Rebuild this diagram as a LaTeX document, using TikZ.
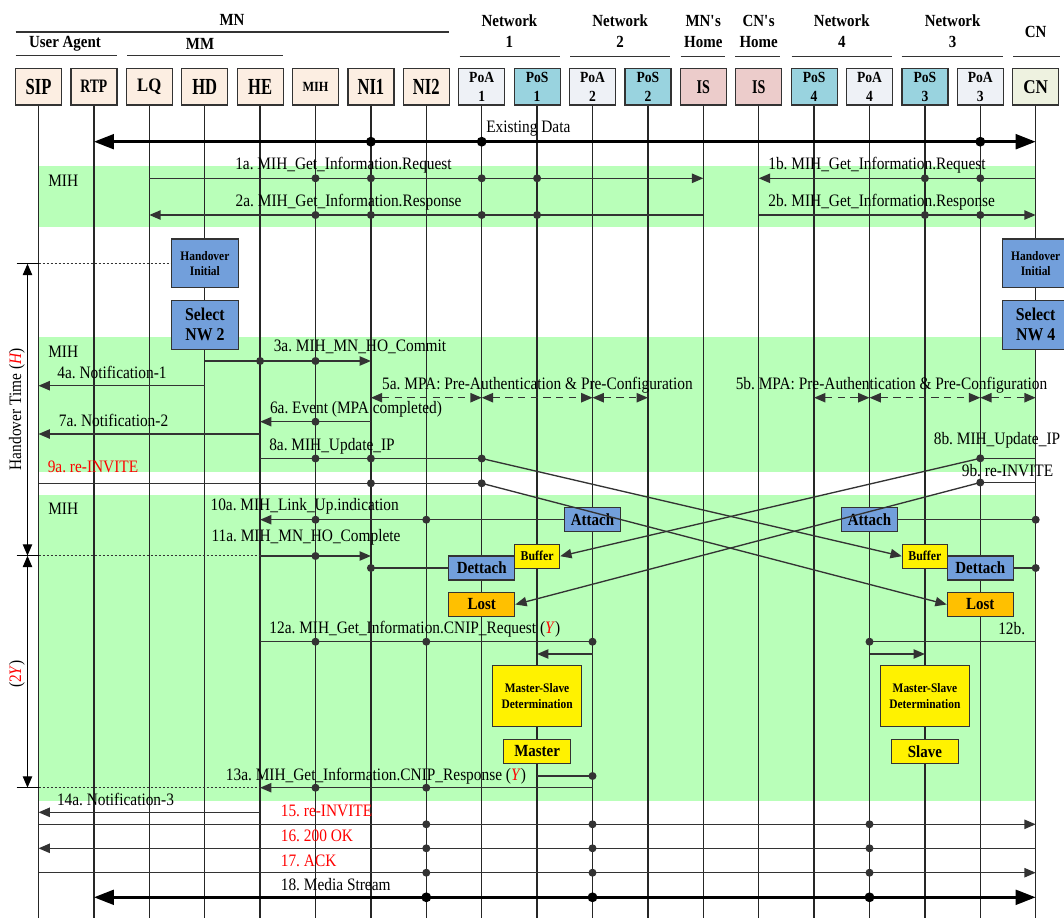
\documentclass[tikz,border=0pt]{standalone}
\usepackage{fontspec}
\setmainfont[FakeStretch=0.88]{Liberation Serif}
\newfontfamily\nar[FakeStretch=0.72]{Liberation Serif}
\usetikzlibrary{arrows.meta}
\definecolor{band}{RGB}{185,255,185}
\definecolor{hoblue}{RGB}{114,159,219}
\definecolor{peach}{RGB}{252,238,226}
\definecolor{poagray}{RGB}{238,241,246}
\definecolor{poscyan}{RGB}{153,211,223}
\definecolor{ispink}{RGB}{236,204,203}
\definecolor{cnbeige}{RGB}{238,242,224}
\definecolor{lostor}{RGB}{255,192,0}
\definecolor{ink}{RGB}{51,51,51}
\newcommand\fsz[2]{\fontsize{#1pt}{#2pt}\selectfont}
\newcommand\dt[2]{\fill[ink] (#1 |- 0,#2) circle (3pt);}
\newcommand\bdt[2]{\fill[black] (#1 |- 0,#2) circle (3.7pt);}
\frenchspacing
\begin{document}
\begin{tikzpicture}[x=0.75pt,y=-0.75pt,
  hb/.style={draw=ink, line width=0.9pt, minimum width=34.5pt, minimum height=27.5pt, inner sep=0pt, align=center},
  grp/.style={font=\bfseries\fsz{12.75}{15.75}, align=center, inner sep=0pt},
  gline/.style={draw=ink, line width=1.4pt},
  life/.style={draw=black!85, line width=1pt},
  msg/.style={draw=ink, line width=1pt, -{Triangle[length=8.5pt,width=7pt]}},
  seg/.style={draw=ink, line width=1pt},
  mpa/.style={draw=ink, line width=1pt, dash pattern=on 5.5pt off 4pt, {Triangle[length=8.5pt,width=7pt]}-{Triangle[length=8.5pt,width=7pt]}},
  flow/.style={draw=black, line width=2.2pt, {Triangle[length=15pt,width=11pt]}-{Triangle[length=15pt,width=11pt]}},
  tmark/.style={draw=black, line width=0.9pt, {Triangle[length=8.5pt,width=7pt]}-{Triangle[length=8.5pt,width=7pt]}},
  tick/.style={draw=black, line width=0.9pt},
  dotl/.style={draw=ink, line width=0.8pt, dash pattern=on 1.5pt off 1.5pt},
  lbl/.style={font=\fsz{13.1}{15}, inner sep=0pt},
  rlbl/.style={lbl, text=red},
  bx/.style={draw=ink, line width=0.9pt, inner sep=0pt, align=center, font=\bfseries},
  hobox/.style={bx, fill=hoblue, minimum width=50.1pt, minimum height=36.6pt},
  attbox/.style={bx, fill=hoblue, minimum width=42pt, minimum height=18pt, font=\bfseries\fsz{12.75}{14}},
  detbox/.style={bx, fill=hoblue, minimum width=49.5pt, minimum height=18pt, font=\bfseries\fsz{12.75}{14}},
  lostbox/.style={bx, fill=lostor, minimum width=49.5pt, minimum height=18pt, font=\bfseries\fsz{12.75}{14}},
  bufbox/.style={bx, fill=yellow, minimum width=33.75pt, minimum height=18pt, font=\bfseries\fsz{10.1}{12}},
  msbox/.style={bx, fill=yellow, minimum width=66.5pt, minimum height=45.75pt, font=\bfseries\fsz{9.75}{12}},
  rolebox/.style={bx, fill=yellow, minimum width=50pt, minimum height=18pt, font=\bfseries\fsz{12.75}{14}}
]
\useasboundingbox (0,0) rectangle (1064,918);

% ---------- entity boxes ----------
\node[hb, fill=peach, font=\nar\bfseries\fsz{17.25}{18}] (sip) at (38.5,86.7) {SIP};
\node[hb, fill=peach, font=\nar\bfseries\fsz{14.25}{16}] (rtp) at (93.9,86.7) {RTP};
\node[hb, fill=peach, font=\bfseries\fsz{14.25}{16}] (lq) at (149.3,86.7) {LQ};
\node[hb, fill=peach, font=\nar\bfseries\fsz{17.25}{18}] (hd) at (204.7,86.7) {HD};
\node[hb, fill=peach, font=\nar\bfseries\fsz{17.25}{18}] (he) at (260.1,86.7) {HE};
\node[hb, fill=peach, font=\bfseries\fsz{10.5}{12}] (mih) at (315.5,86.7) {MIH};
\node[hb, fill=peach, font=\nar\bfseries\fsz{17.25}{18}] (nia) at (370.9,86.7) {NI1};
\node[hb, fill=peach, font=\nar\bfseries\fsz{17.25}{18}] (nib) at (426.3,86.7) {NI2};
\node[hb, fill=poagray, font=\bfseries\fsz{11.6}{14.25}] (poaA) at (481.7,86.7) {PoA\\1};
\node[hb, fill=poscyan, font=\bfseries\fsz{11.6}{14.25}] (posA) at (537.1,86.7) {PoS\\1};
\node[hb, fill=poagray, font=\bfseries\fsz{11.6}{14.25}] (poaB) at (592.5,86.7) {PoA\\2};
\node[hb, fill=poscyan, font=\bfseries\fsz{11.6}{14.25}] (posB) at (647.9,86.7) {PoS\\2};
\node[hb, fill=ispink, font=\nar\bfseries\fsz{14.6}{16}] (isM) at (703.3,86.7) {IS};
\node[hb, fill=ispink, font=\nar\bfseries\fsz{14.6}{16}] (isC) at (758.7,86.7) {IS};
\node[hb, fill=poscyan, font=\bfseries\fsz{11.6}{14.25}] (posD) at (814.1,86.7) {PoS\\4};
\node[hb, fill=poagray, font=\bfseries\fsz{11.6}{14.25}] (poaD) at (869.5,86.7) {PoA\\4};
\node[hb, fill=poscyan, font=\bfseries\fsz{11.6}{14.25}] (posC) at (924.9,86.7) {PoS\\3};
\node[hb, fill=poagray, font=\bfseries\fsz{11.6}{14.25}] (poaC) at (980.3,86.7) {PoA\\3};
\node[hb, fill=cnbeige, font=\bfseries\fsz{14.6}{16}] (cn) at (1035.7,86.7) {CN};

% ---------- group headings ----------
\node[grp] (gMN) at (232,20) {MN};
\node[grp] (gUA) at (65,44) {User Agent};
\node[grp] (gMM) at (200,44) {MM};
\node[grp] (gN1) at (509.4,31.5) {Network\\1};
\node[grp] (gN2) at (620.2,31.5) {Network\\2};
\node[grp] (gMH) at (703.3,31.5) {MN\textquotesingle s\\Home};
\node[grp] (gCH) at (758.7,31.5) {CN\textquotesingle s\\Home};
\node[grp] (gN4) at (841.8,31.5) {Network\\4};
\node[grp] (gN3) at (952.6,31.5) {Network\\3};
\node[grp] (gCN) at (1035.7,31.7) {CN};
\draw[gline] (15.5,32.3) -- (449,32.3);
\draw[gline] (15.5,55.5) -- (117,55.5);
\draw[gline] (127,55.5) -- (283,55.5);
\draw[gline] (459.7,56.5) -- (560,56.5);
\draw[gline] (570,56.5) -- (670,56.5);
\draw[gline] (680.6,56.5) -- (725,56.5);
\draw[gline] (735,56.5) -- (780,56.5);
\draw[gline] (791.7,56.5) -- (892,56.5);
\draw[gline] (901.7,56.5) -- (1003,56.5);
\draw[gline] (1013,56.5) -- (1059.6,56.5);

% ---------- MIH bands ----------
\fill[band] (sip |- 0,166) rectangle (cn |- 0,227.3);
\fill[band] (sip |- 0,336.7) rectangle (cn |- 0,471.5);
\fill[band] (sip |- 0,495) rectangle (cn |- 0,800.7);
\node[lbl, anchor=west] (mih1) at (48,180.7) {MIH};
\node[lbl, anchor=west] (mih2) at (48,351.7) {MIH};
\node[lbl, anchor=west] (mih3) at (48,509) {MIH};

% ---------- lifelines ----------
\foreach \n in {sip,rtp,lq,hd,he,mih,nia,nib,poaA,posA,poaB,posB,isM,isC,posD,poaD,posC,poaC,cn}
  \draw[life] (\n.south) -- (\n.south |- 0,918);

% ---------- existing data ----------
\draw[flow] (rtp |- 0,141.7) -- (cn |- 0,141.7);
\bdt{nia}{141.7}\bdt{poaA}{141.7}\bdt{poaC}{141.7}
\node[lbl, anchor=west] (lex) at (486,129) {Existing Data};

% ---------- information query ----------
\draw[msg] (lq |- 0,178.3) -- (isM |- 0,178.3);
\draw[msg] (isM |- 0,215) -- (lq |- 0,215);
\foreach \n in {mih,nia,poaA,posA} {\dt{\n}{178.3}\dt{\n}{215}}
\draw[msg] (cn |- 0,178.3) -- (isC |- 0,178.3);
\draw[msg] (isC |- 0,215) -- (cn |- 0,215);
\foreach \n in {posC,poaC} {\dt{\n}{178.3}\dt{\n}{215}}
\node[lbl] (l1a) at (343.5,165.7) {1a. MIH\_Get\_Information.Request};
\node[lbl] (l2a) at (348.6,202.3) {2a. MIH\_Get\_Information.Response};
\node[lbl] (l1b) at (877,165.7) {1b. MIH\_Get\_Information.Request};
\node[lbl] (l2b) at (881.7,202.3) {2b. MIH\_Get\_Information.Response};

% ---------- handover timing marks ----------
\coordinate (t1) at (27.5,263.7);
\coordinate (t2) at (27.5,555.7);
\coordinate (t3) at (27.5,787.7);
\draw[tick] (16.5,263.7) -- (sip |- t1);
\draw[tick] (16.5,555.7) -- (sip |- t2);
\draw[tick] (16.5,787.7) -- (sip |- t3);
\draw[tmark] (t1) -- (t2);
\draw[tmark] (t2) -- (t3);
\node[lbl, rotate=90] (lht) at (17,409) {Handover Time (\textcolor{red}{\textit{H}})};
\node[lbl, rotate=90] (l2y) at (17,674) {(\textcolor{red}{2\textit{Y}})};

% ---------- commit / MPA ----------
\draw[msg] (hd |- 0,361) -- (nia |- 0,361);
\dt{he}{361}\dt{mih}{361}
\draw[msg] (hd |- 0,385.7) -- (sip |- 0,385.7);
\draw[mpa] (nia |- 0,397.7) -- (poaA |- 0,397.7);
\draw[mpa] (poaA |- 0,397.7) -- (poaB |- 0,397.7);
\draw[mpa] (poaB |- 0,397.7) -- (posB |- 0,397.7);
\draw[mpa] (posD |- 0,397.7) -- (poaD |- 0,397.7);
\draw[mpa] (poaD |- 0,397.7) -- (poaC |- 0,397.7);
\draw[mpa] (poaC |- 0,397.7) -- (cn |- 0,397.7);
\draw[msg] (nia |- 0,421.7) -- (he |- 0,421.7);
\dt{mih}{421.7}
\draw[msg] (he |- 0,434) -- (sip |- 0,434);
\draw[seg] (he |- 0,458.5) -- (poaA |- 0,458.5);
\dt{mih}{458.5}\dt{nia}{458.5}
\draw[seg] (sip |- 0,483.3) -- (poaA |- 0,483.3);
\draw[seg] (cn |- 0,458.3) -- (poaC |- 0,458.3);
\draw[seg] (cn |- 0,482.5) -- (poaC |- 0,482.5);
\node[lbl] (l3a) at (360,347.3) {3a. MIH\_MN\_HO\_Commit};
\node[lbl] (l4a) at (112,372.7) {4a. Notification-1};
\node[lbl] (l5a) at (537.5,385) {5a. MPA: Pre-Authentication \& Pre-Configuration};
\node[lbl] (l5b) at (891.5,385) {5b. MPA: Pre-Authentication \& Pre-Configuration};
\node[lbl] (l6a) at (356,409.3) {6a. Event (MPA completed)};
\node[lbl] (l7a) at (113.6,420.7) {7a. Notification-2};
\node[lbl] (l8a) at (332,446) {8a. MIH\_Update\_IP};
\node[lbl] (l8b) at (997,440) {8b. MIH\_Update\_IP};
\node[rlbl] (l9a) at (93,466.7) {9a. re-INVITE};
\node[lbl] (l9b) at (1007.5,470.7) {9b. re-INVITE};

% ---------- link up / handover complete ----------
\node[attbox] (attL) at (592.5,519.7) {Attach};
\node[attbox] (attR) at (869.5,519.7) {Attach};
\node[bufbox] (bufL) at (537.1,556.2) {Buffer};
\node[bufbox] (bufR) at (924.9,556.2) {Buffer};
\node[detbox] (detL) at (481.7,568) {Dettach};
\node[detbox] (detR) at (980.3,568) {Dettach};
\node[lostbox] (lostL) at (481.7,604.5) {Lost};
\node[lostbox] (lostR) at (980.3,604.5) {Lost};
\draw[msg] (attL.west) -- (he |- attL.west);
\dt{mih}{519.7}\dt{nib}{519.7}
\draw[seg] (cn |- attR.east) -- (attR.east);
\fill[ink] (cn |- attR.east) circle (3pt);
\draw[msg] (he |- 0,556) -- (nia |- 0,556);
\dt{mih}{556}
\draw[seg] (nia |- detL.west) -- (detL.west);
\fill[ink] (nia |- detL.west) circle (3pt);
\draw[seg] (cn |- detR.east) -- (detR.east);
\fill[ink] (cn |- detR.east) circle (3pt);
\node[lbl] (l10a) at (304.7,506.7) {10a. MIH\_Link\_Up.indication};
\node[lbl] (l11a) at (306,537.3) {11a. MIH\_MN\_HO\_Complete};

% crossing re-routed traffic
\draw[msg] (poaA |- 0,458.5) -- (bufR.west);
\draw[msg] (poaA |- 0,483.3) -- (lostR.west);
\draw[msg] (poaC |- 0,458.3) -- (bufL.east);
\draw[msg] (poaC |- 0,482.5) -- (lostL.east);
\dt{poaA}{458.5}\dt{poaA}{483.3}\dt{nia}{483.3}
\dt{poaC}{458.3}\dt{poaC}{482.5}

% ---------- correspondent address query ----------
\draw[seg] (he |- 0,641.7) -- (poaB |- 0,641.7);
\dt{mih}{641.7}\dt{nib}{641.7}\dt{poaB}{641.7}
\draw[msg] (poaB |- 0,654) -- (posA |- 0,654);
\draw[seg] (cn |- 0,641.7) -- (poaD |- 0,641.7);
\dt{poaD}{641.7}
\draw[msg] (poaD |- 0,654) -- (posC |- 0,654);
\node[lbl] (l12a) at (414.8,629.3) {12a. MIH\_Get\_Information.CNIP\_Request (\textcolor{red}{\textit{Y}})};
\node[lbl] (l12b) at (1011.7,628.3) {12b.};

\node[msbox] (msL) at (537.1,696.3) {Master-Slave\\Determination};
\node[msbox] (msR) at (924.9,696.3) {Master-Slave\\Determination};
\node[rolebox] (mst) at (537.1,751.3) {Master};
\node[rolebox] (slv) at (924.9,751.3) {Slave};

\draw[seg] (posA |- 0,776) -- (poaB |- 0,776);
\dt{poaB}{776}
\draw[msg] (poaB |- 0,787.7) -- (he |- 0,787.7);
\dt{mih}{787.7}\dt{nib}{787.7}
\node[lbl] (l13a) at (376,776) {13a. MIH\_Get\_Information.CNIP\_Response (\textcolor{red}{\textit{Y}})};

% ---------- session update ----------
\draw[msg] (he |- 0,812.3) -- (sip |- 0,812.3);
\draw[msg] (sip |- 0,824.3) -- (cn |- 0,824.3);
\draw[msg] (cn |- 0,848.3) -- (sip |- 0,848.3);
\draw[msg] (sip |- 0,872.7) -- (cn |- 0,872.7);
\foreach \yy in {824.3,848.3,872.7} {\dt{nib}{\yy}\dt{poaB}{\yy}\dt{poaD}{\yy}}
\draw[flow] (rtp |- 0,897.3) -- (cn |- 0,897.3);
\bdt{nib}{897.3}\bdt{poaB}{897.3}\bdt{poaD}{897.3}
\node[lbl] (l14a) at (115.5,799.3) {14a. Notification-3};
\node[rlbl, anchor=west] (l15) at (280.6,811) {15. re-INVITE};
\node[rlbl, anchor=west] (l16) at (280.6,836) {16. 200 OK};
\node[rlbl, anchor=west] (l17) at (280.6,860.7) {17. ACK};
\node[lbl, anchor=west] (l18) at (280.6,884.3) {18. Media Stream};

% ---------- handover decision boxes ----------
\node[hobox, font=\bfseries\fsz{9.75}{11}] (hiL) at (204.9,263.3) {Handover\\Initial};
\node[hobox, font=\bfseries\fsz{13.5}{15}] (selL) at (204.9,324.8) {Select\\NW 2};
\node[hobox, font=\bfseries\fsz{9.75}{11}] (hiR) at (1035.7,263.3) {Handover\\Initial};
\node[hobox, font=\bfseries\fsz{13.5}{15}] (selR) at (1035.7,324.8) {Select\\NW 4};

% dotted guides of the timing marks
\draw[dotl] (sip |- t1) -- (hiL.west |- t1);
\draw[dotl] (sip |- t2) -- (he |- t2);
\draw[dotl] (sip |- t3) -- (he |- t3);
\end{tikzpicture}
\end{document}
